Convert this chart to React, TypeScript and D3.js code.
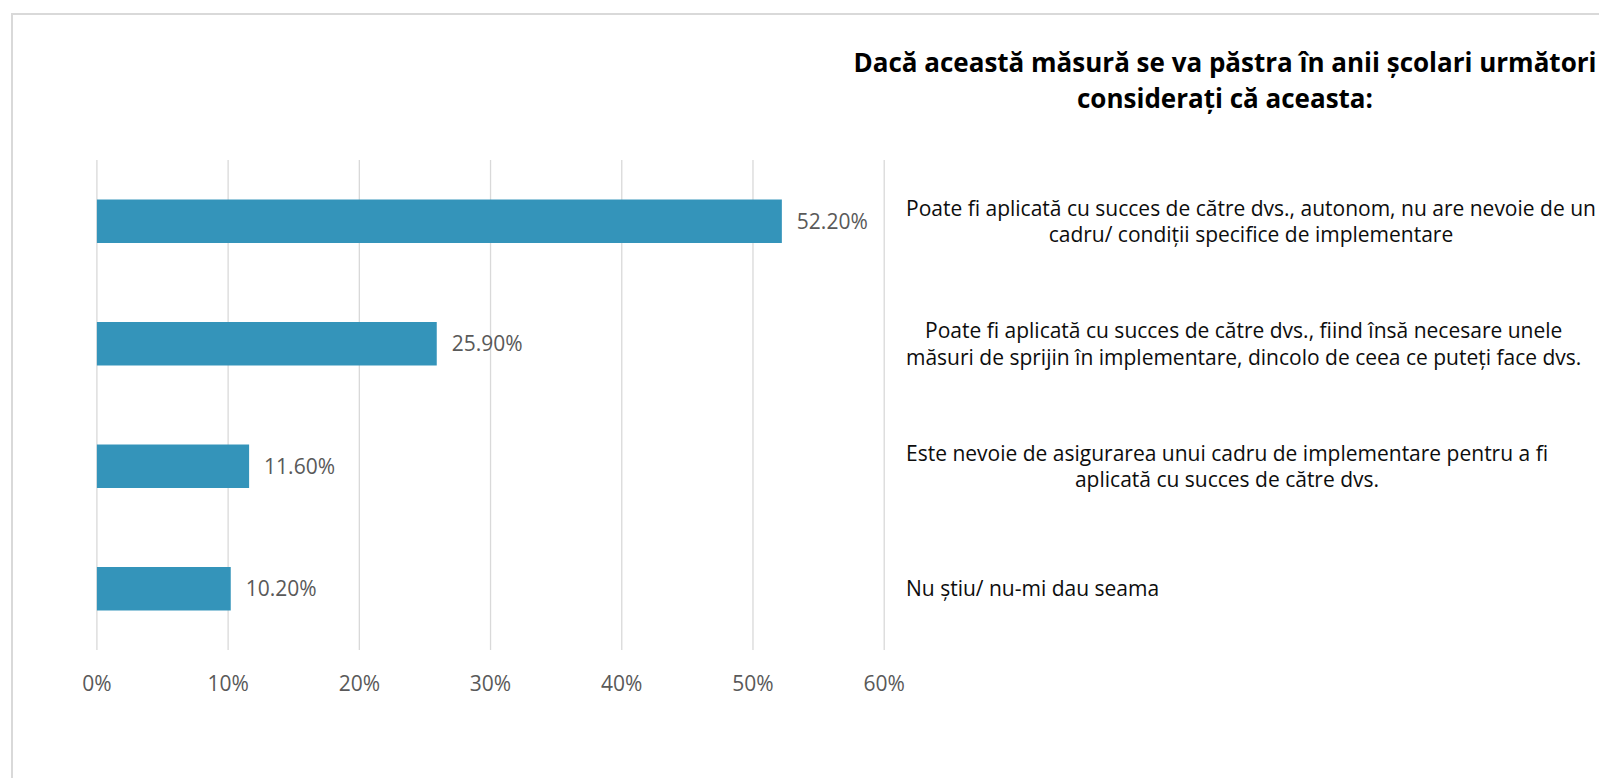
import React, { useRef, useEffect } from 'react';
import * as d3 from 'd3';

// categorii (de sus in jos)
const categories = [
  'Poate fi aplicată cu succes de către dvs., autonom, nu are nevoie de un cadru/ condiții specifice de implementare',
  'Poate fi aplicată cu succes de către dvs., fiind însă necesare unele măsuri de sprijin în implementare, dincolo de ceea ce puteți face dvs.',
  'Este nevoie de asigurarea unui cadru de implementare pentru a fi aplicată cu succes de către dvs.',
  'Nu știu/ nu-mi dau seama',
];

// randurile etichetelor, cum sunt rupte in original
const categoryLines = [
  ['Poate fi aplicată cu succes de către dvs., autonom, nu are nevoie de un', 'cadru/ condiții specifice de implementare'],
  ['Poate fi aplicată cu succes de către dvs., fiind însă necesare unele', 'măsuri de sprijin în implementare, dincolo de ceea ce puteți face dvs.'],
  ['Este nevoie de asigurarea unui cadru de implementare pentru a fi', 'aplicată cu succes de către dvs.'],
  ['Nu știu/ nu-mi dau seama'],
];

const values = [0.522, 0.259, 0.116, 0.102];

const xTicks = [0, 0.1, 0.2, 0.3, 0.4, 0.5, 0.6];

const titleLines = [
  'Dacă această măsură se va păstra în anii școlari următori',
  'considerați că aceasta:',
];

const WIDTH = 1599;
const HEIGHT = 778;
const FONT = '"Open Sans", "Liberation Sans", Arial, sans-serif';

const App: React.FC = () => {
  const svgRef = useRef<SVGSVGElement>(null);

  useEffect(() => {
    if (!svgRef.current) return;
    const svg = d3.select(svgRef.current);
    svg.selectAll('*').remove();

    svg.append('rect')
      .attr('width', WIDTH)
      .attr('height', HEIGHT)
      .attr('fill', '#fff');

    // chenarul graficului (doar stanga si sus se vad)
    svg.append('rect')
      .attr('x', 12)
      .attr('y', 14)
      .attr('width', WIDTH + 20)
      .attr('height', HEIGHT + 20)
      .attr('fill', 'none')
      .attr('stroke', '#d9d9d9')
      .attr('stroke-width', 2);

    const xScale = d3.scaleLinear()
      .domain([0, 0.6])
      .range([96.9, 884.2]);

    const yScale = d3.scaleBand<string>()
      .domain(categories)
      .range([160, 650])
      .paddingInner(0.645)
      .paddingOuter(0.3225);

    // linii de grila
    svg.append('g')
      .selectAll('line')
      .data(xTicks)
      .join('line')
      .attr('x1', d => xScale(d))
      .attr('x2', d => xScale(d))
      .attr('y1', 160)
      .attr('y2', 650)
      .attr('stroke', '#d9d9d9')
      .attr('stroke-width', 1.3);

    // etichete axa X
    svg.append('g')
      .selectAll('text')
      .data(xTicks)
      .join('text')
      .attr('x', d => xScale(d))
      .attr('y', 691)
      .attr('text-anchor', 'middle')
      .attr('font-family', FONT)
      .attr('font-size', 21)
      .attr('fill', '#595959')
      .text(d => d3.format('.0%')(d));

    // bare
    svg.append('g')
      .selectAll('rect')
      .data(values)
      .join('rect')
      .attr('x', xScale(0))
      .attr('y', (d, i) => yScale(categories[i]) as number)
      .attr('width', d => xScale(d) - xScale(0))
      .attr('height', yScale.bandwidth())
      .attr('fill', '#3494ba');

    // valori
    svg.append('g')
      .selectAll('text')
      .data(values)
      .join('text')
      .attr('x', d => xScale(d) + 15)
      .attr('y', (d, i) => (yScale(categories[i]) as number) + yScale.bandwidth() / 2)
      .attr('dy', '0.36em')
      .attr('font-family', FONT)
      .attr('font-size', 21)
      .attr('fill', '#595959')
      .text(d => d3.format('.2%')(d));

    // etichete categorii, centrate in blocul lor
    const labelX = 906;
    const lineH = 26.5;
    categoryLines.forEach((lines, i) => {
      const cy = (yScale(categories[i]) as number) + yScale.bandwidth() / 2;
      const g = svg.append('g');
      const texts = g.selectAll('text')
        .data(lines)
        .join('text')
        .attr('y', (d, j) => cy + (j - (lines.length - 1) / 2) * lineH)
        .attr('dy', '0.36em')
        .attr('text-anchor', 'middle')
        .attr('font-family', FONT)
        .attr('font-size', 21)
        .attr('fill', '#0d0d0d')
        .text(d => d);
      let maxW = 0;
      texts.each(function () {
        maxW = Math.max(maxW, (this as SVGTextElement).getComputedTextLength());
      });
      texts.attr('x', labelX + maxW / 2);
    });

    // titlu
    svg.append('g')
      .selectAll('text')
      .data(titleLines)
      .join('text')
      .attr('x', 1225)
      .attr('y', (d, i) => 72 + i * 36)
      .attr('text-anchor', 'middle')
      .attr('font-family', FONT)
      .attr('font-weight', 'bold')
      .attr('font-size', 26)
      .attr('fill', '#000')
      .text(d => d);
  }, []);

  return (
    <svg
      ref={svgRef}
      width={WIDTH}
      height={HEIGHT}
      style={{ position: 'absolute', left: 0, top: 0, display: 'block' }}
    />
  );
};

export default App;
